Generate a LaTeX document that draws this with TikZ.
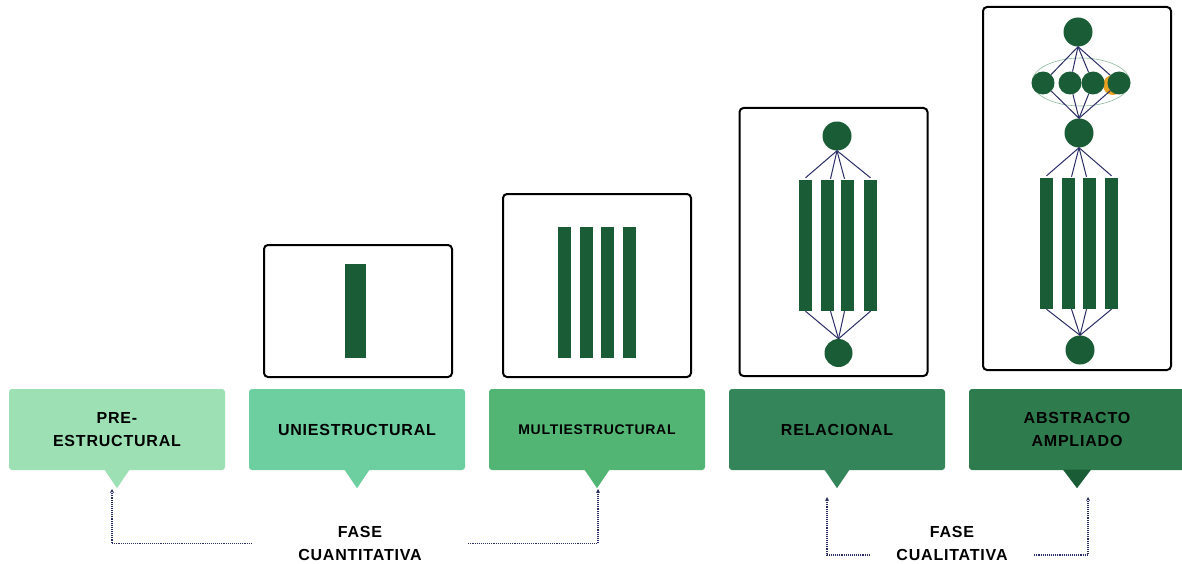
\documentclass[tikz,border=0pt]{standalone}
\usepackage{fontspec}
\setmainfont{Liberation Sans}
\newfontfamily\lblfont[LetterSpace=5]{Liberation Sans Bold}
\usetikzlibrary{arrows.meta}
\definecolor{cA}{HTML}{9CE0B4}
\definecolor{cB}{HTML}{6DCEA0}
\definecolor{cC}{HTML}{52B573}
\definecolor{cD}{HTML}{35855A}
\definecolor{cE}{HTML}{2E7B4D}
\definecolor{dk}{HTML}{195C36}
\definecolor{navy}{HTML}{2A2D66}
\definecolor{ell}{HTML}{8DB89C}
\definecolor{org}{HTML}{E8A020}
\begin{document}
\begin{tikzpicture}[x=1pt,y=-1pt,
  lbox/.style={rounded corners=3pt, minimum width=216pt, minimum height=81pt, inner sep=0pt, align=center,
    font=\lblfont\fontsize{16}{23}\selectfont, text=black},
  frame/.style={draw=black, line width=2pt, rounded corners=4pt, minimum width=188pt, inner sep=0pt, fill=white},
  bar/.style={fill=dk, minimum width=13.5pt, minimum height=131pt, inner sep=0pt},
  dot/.style={circle, fill=dk, minimum size=29pt, inner sep=0pt},
  sdot/.style={circle, fill=dk, minimum size=23pt, inner sep=0pt},
  link/.style={draw=navy, line width=1pt},
  conn/.style={draw=navy, line width=1.3pt, dash pattern=on 1.1pt off 1pt, -{Stealth[length=4pt,width=4pt]}},
  phase/.style={fill=white, inner sep=0pt, align=center, minimum height=47pt,
    font=\lblfont\fontsize{16}{23}\selectfont, text=black}
]
\useasboundingbox (0,0) rectangle (1182,564);

% label boxes
\node[lbox, fill=cA] (b1) at (117,429.5) {PRE-\\ESTRUCTURAL};
\node[lbox, fill=cB] (b2) at (357,429.5) {UNIESTRUCTURAL};
\node[lbox, fill=cC, font=\lblfont\fontsize{14}{20}\selectfont] (b3) at (597,429.5) {MULTIESTRUCTURAL};
\node[lbox, fill=cD] (b4) at (837,429.5) {RELACIONAL};
\node[lbox, fill=cE] (b5) at (1077,429.5) {ABSTRACTO\\AMPLIADO};
\fill[cA] ([xshift=-12.5pt,yshift=0.5pt]b1.south) -- ([xshift=12.5pt,yshift=0.5pt]b1.south) -- ([yshift=-18pt]b1.south) -- cycle;
\fill[cB] ([xshift=-12.5pt,yshift=0.5pt]b2.south) -- ([xshift=12.5pt,yshift=0.5pt]b2.south) -- ([yshift=-18pt]b2.south) -- cycle;
\fill[cC] ([xshift=-12.5pt,yshift=0.5pt]b3.south) -- ([xshift=12.5pt,yshift=0.5pt]b3.south) -- ([yshift=-18pt]b3.south) -- cycle;
\fill[cD] ([xshift=-12.5pt,yshift=0.5pt]b4.south) -- ([xshift=12.5pt,yshift=0.5pt]b4.south) -- ([yshift=-18pt]b4.south) -- cycle;
\fill[dk] ([xshift=-14pt,yshift=0.5pt]b5.south) -- ([xshift=14pt,yshift=0.5pt]b5.south) -- ([yshift=-18pt]b5.south) -- cycle;

% frames
\node[frame, minimum height=132pt] (f2) at (358,311) {};
\node[frame, minimum height=183pt] (f3) at (597,285.5) {};
\node[frame, minimum height=268pt] (f4) at (833.5,242) {};
\node[frame, minimum height=363pt] (f5) at (1077,188.5) {};

% uniestructural
\node[bar, minimum width=21pt, minimum height=94pt] (u1) at (355.5,311) {};

% multiestructural
\node[bar] (m1) at (564.5,292.5) {};
\node[bar] (m2) at (586.5,292.5) {};
\node[bar] (m3) at (607.5,292.5) {};
\node[bar] (m4) at (629.5,292.5) {};

% relacional
\node[bar] (r1) at (805.5,245.5) {};
\node[bar] (r2) at (827.5,245.5) {};
\node[bar] (r3) at (847.5,245.5) {};
\node[bar] (r4) at (870.5,245.5) {};
\node[dot] (rt) at (837,136) {};
\node[dot, minimum size=28pt] (rb) at (838.5,353) {};
\draw[link] (rt.south) -- ([yshift=2pt]r1.north);
\draw[link] (rt.south) -- ([xshift=3pt,yshift=1pt]r2.north);
\draw[link] (rt.south) -- ([xshift=-3pt,yshift=1pt]r3.north);
\draw[link] (rt.south) -- ([yshift=2pt]r4.north);
\draw[link] (r1.south) -- (rb.north);
\draw[link] ([xshift=3pt]r2.south) -- (rb.north);
\draw[link] ([xshift=-3pt]r3.south) -- (rb.north);
\draw[link] (r4.south) -- (rb.north);

% abstracto ampliado
\draw[ell, line width=0.6pt] (1081,82) ellipse [x radius=49pt, y radius=24pt];
\node[dot] (at) at (1078,32) {};
\node[dot] (am) at (1079,133) {};
\node[dot] (ab) at (1080,350) {};
\fill[org] (1113,85) circle (10pt);
\node[sdot] (s1) at (1043,83) {};
\node[sdot] (s2) at (1070,83) {};
\node[sdot] (s3) at (1093,83) {};
\node[sdot] (s4) at (1119,83) {};
\draw[link] (at.south) -- (s1);
\draw[link] (at.south) -- (s2);
\draw[link] (at.south) -- (s3);
\draw[link] (at.south) -- (s4);
\draw[link] (s1) -- (am.north);
\draw[link] (s2) -- (am.north);
\draw[link] (s3) -- (am.north);
\draw[link] (s4) -- (am.north);
\node[bar] (v1) at (1046.5,243.5) {};
\node[bar] (v2) at (1068.5,243.5) {};
\node[bar] (v3) at (1089.5,243.5) {};
\node[bar] (v4) at (1111.5,243.5) {};
\draw[link] (am.south) -- ([yshift=2pt]v1.north);
\draw[link] (am.south) -- ([xshift=3pt,yshift=1pt]v2.north);
\draw[link] (am.south) -- ([xshift=-3pt,yshift=1pt]v3.north);
\draw[link] (am.south) -- ([yshift=2pt]v4.north);
\draw[link] (v1.south) -- (ab.north);
\draw[link] ([xshift=3pt]v2.south) -- (ab.north);
\draw[link] ([xshift=-3pt]v3.south) -- (ab.north);
\draw[link] (v4.south) -- (ab.north);

% phases
\coordinate (a1) at (112,489);
\coordinate (a2) at (598,489);
\coordinate (a3) at (827,497);
\coordinate (a4) at (1088,497);
\node[phase, minimum width=216pt] (fq) at (360,543.5) {FASE\\CUANTITATIVA};
\node[phase, minimum width=164pt] (fl) at (952,543.5) {FASE\\CUALITATIVA};
\draw[conn] (fq.west) -| (a1);
\draw[conn] (fq.east) -| (a2);
\draw[conn] ([yshift=-11.5pt]fl.west) -| (a3);
\draw[conn] ([yshift=-11.5pt]fl.east) -| (a4);
\end{tikzpicture}
\end{document}
